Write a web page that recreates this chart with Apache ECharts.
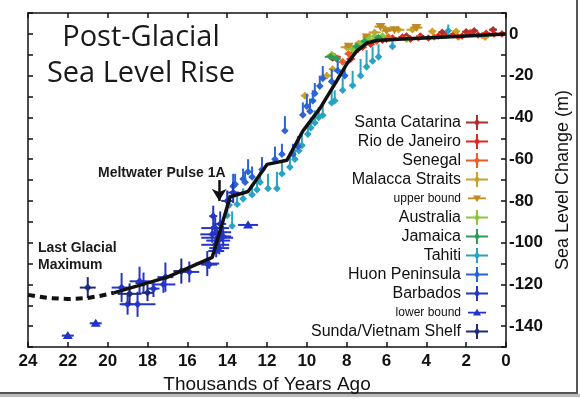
<!DOCTYPE html>
<html><head><meta charset="utf-8">
<script src="https://cdn.jsdelivr.net/npm/echarts@6/dist/echarts.min.js"></script>
<style>html,body{margin:0;padding:0;background:#fff}#c{width:580px;height:399px}</style>
</head><body><div id="c"></div>
<script>
// ---- Data: [thousand years ago, sea level (m), x error, y error up, y error down]
const xTicks = [24, 22, 20, 18, 16, 14, 12, 10, 8, 6, 4, 2, 0];
const yTicks = [0, -20, -40, -60, -80, -100, -120, -140];

const santaCatarina = [[3.2,0.8,0.2,1,1],[2.0,1.0,0.2,1,1],[1.6,1.5,0.2,1,1],[0.65,2.0,0.2,1.2,1.2],[5.0,-1.0,0.2,1,1],[6.0,-2.5,0.2,1,1],[8.7,-11.5,0.2,1.2,1.2]];
const rioDeJaneiro = [[7.8,-12,0.2,1.5,1.5],[7.6,-8.7,0.2,1.5,1.5],[7.2,-6.4,0.2,1.2,1.2],[6.8,-5,0.2,1,1],[6.2,-3,0.2,1,1],[5.7,-2,0.2,1,1],[5.2,-1.5,0.2,1,1],[4.8,-2.5,0.2,1,1],[4.3,-1,0.2,1,1],[3.9,-2,0.2,1,1],[3.4,-1,0.2,1,1],[3.0,-0.5,0.2,1,1],[2.6,0,0.2,1,1],[2.2,-1,0.2,1,1],[1.8,0.5,0.2,1,1],[1.4,-0.5,0.2,1,1],[1.0,0.3,0.2,1,1],[0.6,0,0.2,1,1],[0.2,0,0.2,1,1],[8.6,-11,0.3,1.5,1.5]];
const senegal = [[8.7,-10.5,0.3,1.5,1.5],[8.2,-13.4,0.2,1.5,1.5],[7.9,-9.5,0.2,1.2,1.2],[7.4,-7,0.2,1,1],[6.9,-4,0.2,1,1],[6.5,-3.5,0.2,1,1],[5.9,-1.5,0.2,1,1],[4.4,-2,0.2,1,1],[3.6,-1.5,0.2,1,1],[2.4,-1.5,0.2,1,1],[1.2,-0.8,0.2,1,1]];
const malacca = [[10.1,-29.6,0.2,1.5,1.5],[9.0,-20,0.3,1.5,1.5],[8.7,-16.8,0.2,1.2,1.2],[8.0,-6.4,0.3,1.5,1.5],[7.4,-4.5,0.2,1,1],[6.6,0.7,0.3,1,1],[5.4,2,0.3,1,1],[4.7,2,0.3,1,1],[3.7,1.2,0.2,1,1],[2.5,1.2,0.2,1,1],[1.05,-1.6,0.2,1,1]];
const upperBound = [[6.3,3.5,0.3,0,0],[5.6,2.0,0.3,0,0],[4.5,3.0,0.3,0,0],[7.0,-1.5,0.2,0,0],[7.9,-5.9,0.2,0,0],[6.0,1.5,0.25,0,0]];
const australia = [[8.75,-10,0.2,1.5,1.5],[7.7,-7.3,0.3,1.5,1.5],[7.3,-5,0.3,1.2,1.2],[6.9,-2.6,0.3,1,1],[6.6,-1.2,0.3,1,1],[6.2,-1,0.2,1,1],[5.0,-2.6,0.2,1,1]];
const jamaica = [[8.8,-11,0.3,1.5,1.5],[8.5,-12,0.2,1.2,1.2],[7.5,-6,0.2,1,1],[7.1,-3.5,0.2,1,1],[6.4,-1.8,0.2,1,1]];
const tahiti = [[14.0,-87,0.1,5,1],[13.9,-82,0.1,5,1],[13.75,-92,0.1,7,1],[13.5,-81.6,0.15,6,1],[13.2,-79,0.15,5,1],[12.75,-77,0.15,5,1],[12.5,-74.6,0.1,6,1],[12.35,-71,0.15,5,1],[11.95,-74,0.1,7,1],[11.5,-74,0.1,8,1],[11.25,-67,0.15,6,1],[10.85,-63.8,0.15,5,1],[10.6,-60,0.15,5,1],[10.4,-56,0.1,6,1],[10.25,-53.4,0.15,6,1],[9.95,-48,0.15,5,1],[9.8,-45,0.1,5,1],[9.6,-42.6,0.15,6,1],[9.4,-40,0.1,5,1],[9.2,-39,0.15,6,1],[8.75,-33,0.15,6,1],[8.6,-32,0.15,5,1],[8.2,-27,0.1,6,1],[7.7,-24.7,0.15,7,1],[7.3,-20,0.1,8,1],[7.0,-15.8,0.1,8,1],[6.7,-13,0.1,7,1],[6.4,-11,0.1,6,1],[5.7,-6,0.15,4,1],[2.9,1.5,0.05,3,3]];
const huonPeninsula = [[13.7,-73,0.15,6,1],[13.6,-72,0.1,5,1],[13.2,-69.5,0.1,5,1],[13.1,-71,0.15,5,1],[12.95,-66,0.1,6,1],[12.75,-68.5,0.15,5,1],[12.25,-65,0.15,6,1],[11.6,-60,0.15,6,1],[11.25,-57.6,0.1,5,1],[11.1,-46.4,0.1,7,1],[10.7,-57.6,0.15,5,1],[10.45,-54,0.15,5,1],[10.2,-38.8,0.15,6,1],[10.0,-34.6,0.1,6,1],[9.84,-37,0.1,6,1],[9.7,-32,0.15,5,1],[9.6,-28.5,0.1,5,1],[9.35,-25,0.15,5,1],[9.2,-21.4,0.1,6,1],[8.75,-22.8,0.15,6,1],[8.45,-17.6,0.15,5,1],[8.1,-20,0.15,4,1]];
const barbados = [[19.3,-121.5,0.5,7,7],[19.0,-129.5,0.3,5,5],[18.5,-129.5,0.9,6,6],[18.4,-118.5,0.5,7,6],[18.2,-119.3,0.4,5,5],[17.7,-122,0.3,4,4],[17.2,-120,0.6,4,4],[17.1,-116.5,0.4,7,7],[15.9,-114,0.5,5,5],[15.0,-110,0.6,6,6],[14.9,-110.5,0.4,2,2],[14.7,-87.3,0.2,5,5],[14.75,-96,0.6,4,4],[14.6,-93,0.7,5,3],[14.5,-97.6,0.8,4,4],[14.45,-99,0.6,3,3],[14.6,-101,0.7,3,3],[14.4,-102.6,0.5,3,3],[14.3,-95,0.5,4,4],[14.55,-104,0.4,3,3],[14.2,-97,0.4,5,5],[14.35,-91,0.3,6,4],[14.0,-80,0.3,5,5],[13.7,-76,0.3,5,5]];
const lowerBound = [[22.0,-144.5,0.3,0,0],[20.6,-138.6,0.3,0,0],[12.95,-91.5,0.5,0,0]];
const sundaShelf = [[21.0,-121.5,0.4,5,5],[18.9,-124.5,0.6,5,5],[18.0,-124,0.3,4,4],[16.3,-113.6,0.4,6,6]];

// Fitted sea-level curve
const curveDashed = [[24,-125],[23,-126.5],[22,-127],[21,-126.5],[20.4,-125.5],[19.7,-124]];
const curveSolid = [[19.7,-124],[17,-116.5],[14.75,-107],[13.85,-78],[12.95,-75.5],[12.0,-62.5],[11.0,-60.5],[10.2,-46.5],[9.34,-35.7],[8.5,-22.5],[8.0,-14.5],[7.5,-8.3],[7.0,-4.5],[6.5,-3.2],[5.2,-2.5],[3,-1.5],[1,-0.5],[0,0]];

const seriesNames = ['Santa Catarina','Rio de Janeiro','Senegal','Malacca Straits','upper bound','Australia','Jamaica','Tahiti','Huon Peninsula','Barbados','lower bound','Sunda/Vietnam Shelf'];
const seriesData = [santaCatarina, rioDeJaneiro, senegal, malacca, upperBound, australia, jamaica, tahiti, huonPeninsula, barbados, lowerBound, sundaShelf];
const seriesColors = ['#a9302b','#e3261f','#ef5b25','#c9a227','#c08a22','#8cc43f','#2f9d57','#2aa3c2','#2b64d6','#2535c4','#2233cc','#1f2a7a'];
const seriesMarkers = ['d','d','d','d','itri','d','d','d','d','d','tri','d'];

const FONT = '"Liberation Sans", Arial, sans-serif';
const crossIcon = 'path://M0,6.5H22V8.5H0Z M10,0H12V15H10Z M11,3.8L14.2,7.5L11,11.2L7.8,7.5Z';
const triIcon = 'path://M0,0M22,15M2,6.7H20V8.5H2Z M11,3.8L15,10.5H7Z';
const itriIcon = 'path://M0,0M22,15M2,6.5H20V8.3H2Z M7,4.5H15L11,11.2Z';

function makeSeries(name, data, color, marker) {
  return {
    name, type: 'custom', data, clip: true, z: 3, silent: true,
    itemStyle: { color },
    encode: { x: 0, y: 1 },
    renderItem: function (params, api) {
      const x = api.value(0), y = api.value(1), xe = api.value(2), yu = api.value(3), yd = api.value(4);
      const c = api.coord([x, y]);
      const ch = [];
      const ls = { stroke: color, lineWidth: 2 };
      if (xe > 0) {
        const a = api.coord([x + xe, y]), b = api.coord([x - xe, y]);
        ch.push({ type: 'line', shape: { x1: a[0], y1: a[1], x2: b[0], y2: b[1] }, style: ls });
      }
      if (yu > 0 || yd > 0) {
        const a = api.coord([x, y + yu]), b = api.coord([x, y - yd]);
        ch.push({ type: 'line', shape: { x1: a[0], y1: a[1], x2: b[0], y2: b[1] }, style: ls });
      }
      let pts;
      if (marker === 'tri') pts = [[c[0], c[1] - 4.5], [c[0] + 5, c[1] + 3.5], [c[0] - 5, c[1] + 3.5]];
      else if (marker === 'itri') pts = [[c[0], c[1] + 4.5], [c[0] + 5, c[1] - 3.5], [c[0] - 5, c[1] - 3.5]];
      else pts = [[c[0], c[1] - 3.8], [c[0] + 3.8, c[1]], [c[0], c[1] + 3.8], [c[0] - 3.8, c[1]]];
      ch.push({ type: 'polygon', shape: { points: pts }, style: { fill: color } });
      return { type: 'group', children: ch };
    }
  };
}

const series = seriesNames.map((n, i) => makeSeries(n, seriesData[i], seriesColors[i], seriesMarkers[i]));
series.push({
  type: 'line', data: curveDashed, symbol: 'none', z: 6, silent: true,
  lineStyle: { color: '#111', width: 4, type: [7, 5] }
});
series.push({
  type: 'line', data: curveSolid, symbol: 'none', z: 6, silent: true,
  lineStyle: { color: '#111', width: 3.5 },
  markLine: {
    silent: true, symbol: ['none', 'arrow'], symbolSize: [11, 12],
    lineStyle: { color: '#111', width: 2.5, type: 'solid' }, label: { show: false },
    data: [[{ coord: [14.4, -70] }, { coord: [14.4, -80] }]]
  }
});

const axisLine = { show: true, onZero: false, lineStyle: { color: '#111', width: 1.5 } };
const axisTick = { show: true, inside: true, length: 5, lineStyle: { color: '#111', width: 1.5 } };

const option = {
  animation: false,
  backgroundColor: '#fff',
  grid: { left: 28, right: 74, top: 13, bottom: 48 },
  xAxis: [
    { type: 'value', min: 0, max: 24, interval: 2, inverse: true, position: 'bottom',
      axisLine, axisTick, splitLine: { show: false },
      axisLabel: { color: '#111', fontSize: 17, fontWeight: 'bold', fontFamily: FONT, margin: 6,
        formatter: v => (xTicks.indexOf(v) >= 0 ? String(v) : '') },
      name: 'Thousands of Years Ago', nameLocation: 'middle', nameGap: 23,
      nameTextStyle: { color: '#111', fontSize: 19, fontFamily: FONT } },
    { type: 'value', min: 0, max: 24, interval: 2, inverse: true, position: 'top',
      axisLine, axisTick, splitLine: { show: false }, axisLabel: { show: false } }
  ],
  yAxis: [
    { type: 'value', min: -150, max: 10, interval: 10, position: 'right',
      axisLine, axisTick, splitLine: { show: false },
      axisLabel: { color: '#111', fontSize: 17, fontWeight: 'bold', fontFamily: FONT, margin: 3,
        formatter: v => (yTicks.indexOf(v) >= 0 ? String(v) : '') },
      name: 'Sea Level Change (m)', nameLocation: 'middle', nameGap: 43, nameRotate: 90,
      nameTextStyle: { color: '#111', fontSize: 18, fontFamily: FONT } },
    { type: 'value', min: -150, max: 10, interval: 10, position: 'left',
      axisLine, axisTick, splitLine: { show: false }, axisLabel: { show: false } }
  ],
  legend: {
    orient: 'vertical', right: 92, top: 113, align: 'right', selectedMode: false,
    itemWidth: 22, itemHeight: 15, itemGap: 0, padding: 0,
    textStyle: { fontFamily: FONT, fontSize: 16, color: '#111', lineHeight: 19 },
    data: seriesNames.map((n, i) => {
      const small = seriesMarkers[i] !== 'd';
      return { name: n, icon: seriesMarkers[i] === 'tri' ? triIcon : (seriesMarkers[i] === 'itri' ? itriIcon : crossIcon),
        textStyle: small ? { fontSize: 12, lineHeight: 19 } : { fontSize: 16, lineHeight: 19 } };
    })
  },
  graphic: [
    { type: 'text', x: 141, y: 38, style: { text: 'Post-Glacial', align: 'center', verticalAlign: 'middle',
        font: '500 29px "Open Sans", sans-serif', fill: '#1a1a1a' } },
    { type: 'text', x: 141, y: 74, style: { text: 'Sea Level Rise', align: 'center', verticalAlign: 'middle',
        font: '500 29px "Open Sans", sans-serif', fill: '#1a1a1a' } },
    { type: 'text', x: 98, y: 173, style: { text: 'Meltwater Pulse 1A', align: 'left', verticalAlign: 'middle',
        font: 'bold 14px "Liberation Sans", Arial, sans-serif', fill: '#1a1a1a' } },
    { type: 'text', x: 38, y: 248, style: { text: 'Last Glacial', align: 'left', verticalAlign: 'middle',
        font: 'bold 14px "Liberation Sans", Arial, sans-serif', fill: '#1a1a1a' } },
    { type: 'text', x: 38, y: 265, style: { text: 'Maximum', align: 'left', verticalAlign: 'middle',
        font: 'bold 14px "Liberation Sans", Arial, sans-serif', fill: '#1a1a1a' } },
    { type: 'rect', shape: { x: 576, y: 0, width: 2, height: 395 }, style: { fill: '#555' } },
    { type: 'rect', shape: { x: 0, y: 392, width: 578, height: 2 }, style: { fill: '#555' } },
    { type: 'rect', shape: { x: 0, y: 394, width: 580, height: 3 }, style: { fill: '#bbb' } }
  ],
  series
};

const chart = echarts.init(document.getElementById('c'), null, { renderer: 'canvas' });
chart.setOption(option);
</script>
</body></html>
